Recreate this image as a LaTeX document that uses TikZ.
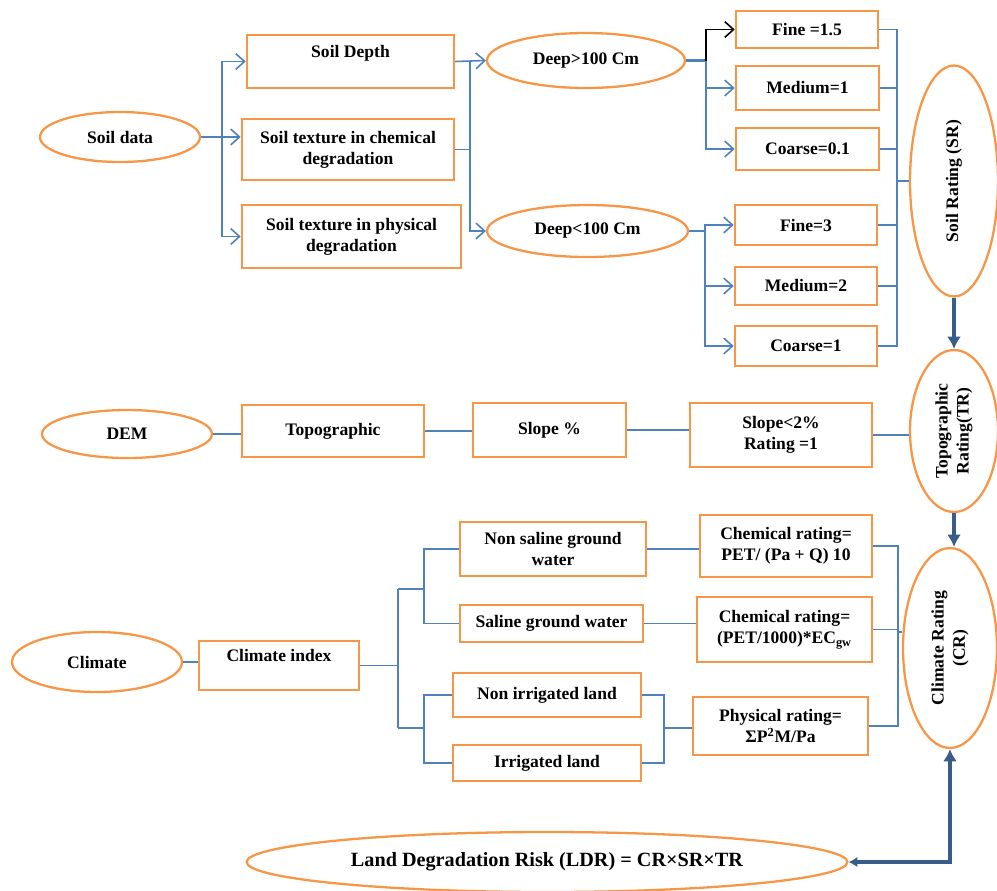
\documentclass[tikz,border=0pt]{standalone}
\usepackage{fontspec}
\setmainfont{Liberation Serif}
\usetikzlibrary{shapes.geometric,arrows.meta}
\definecolor{boxorange}{HTML}{F79646}
\definecolor{linkblue}{HTML}{4F81BD}
\definecolor{darkblue}{HTML}{385D8A}
\begin{document}
\begin{tikzpicture}
			[x=0.02cm,y=-0.02cm,
			box/.style={rectangle,draw=boxorange,line width=1.5pt,align=center,inner sep=0pt,font=\fontsize{10}{12}\selectfont\bfseries},
			oval/.style={ellipse,draw=boxorange,line width=1.3pt,align=center,inner sep=0pt,font=\fontsize{10}{12}\selectfont\bfseries},
			link/.style={draw=linkblue,line width=0.9pt},
			bold link/.style={draw=darkblue,line width=2.6pt},
			>={Straight Barb[length=5pt,width=9pt]}]
			\useasboundingbox(0,0)rectangle(997,890);
			% soil
			\node[oval,name=soil,minimum width=3.2cm,minimum height=1cm]at(120,137){Soil data};
			\node[box,name=depth,minimum width=4.14cm,minimum height=1.06cm]at(350.5,61.5){Soil Depth\\~};
			\node[box,name=chem,minimum width=4.24cm,minimum height=1.22cm]at(348,149.5){Soil texture in chemical\\degradation};
			\node[box,name=phys,minimum width=4.38cm,minimum height=1.26cm]at(351.5,236.5){Soil texture in physical\\degradation};
			\node[oval,name=deep1,minimum width=3.96cm,minimum height=1.1cm]at(586,60.5){Deep>100 Cm};
			\node[oval,name=deep2,minimum width=4.02cm,minimum height=1.04cm]at(587.5,231){Deep<100 Cm};
			\node[box,name=fine1,minimum width=2.84cm,minimum height=0.74cm]at(807,29.5){Fine =1.5};
			\node[box,name=med1,minimum width=2.86cm,minimum height=0.88cm]at(807.5,88){Medium=1};
			\node[box,name=coarse1,minimum width=2.86cm,minimum height=0.84cm]at(807.5,149){Coarse=0.1};
			\node[box,name=fine2,minimum width=2.84cm,minimum height=0.8cm]at(806,225){Fine=3};
			\node[box,name=med2,minimum width=2.84cm,minimum height=0.76cm]at(806,286){Medium=2};
			\node[box,name=coarse2,minimum width=2.84cm,minimum height=0.8cm]at(806,346){Coarse=1};
			\node[oval,name=sr,minimum width=1.76cm,minimum height=4.62cm,label={[rotate=90,font=\fontsize{10}{12}\selectfont\bfseries]center:Soil Rating (SR)}]at(954,181){};
			% topography
			\node[oval,name=dem,minimum width=3.4cm,minimum height=0.96cm]at(127,434){DEM};
			\node[box,name=topo,minimum width=3.64cm,minimum height=1.04cm]at(333,431){Topographic};
			\node[box,name=slope,minimum width=3.06cm,minimum height=1.08cm]at(549.5,430){Slope \%};
			\node[box,name=slope2,minimum width=3.64cm,minimum height=1.28cm]at(781,435){Slope<2\%\\Rating =1};
			\node[oval,name=tr,minimum width=1.76cm,minimum height=3.24cm,label={[rotate=90,align=center,font=\fontsize{10}{12}\selectfont\bfseries]center:Topographic\\Rating(TR)}]at(954,431){};
			% climate
			\node[oval,name=climate,minimum width=3.4cm,minimum height=1.2cm]at(97,662){Climate};
			\node[box,name=cindex,minimum width=3.2cm,minimum height=0.98cm]at(279,665.5){Climate index\\~};
			\node[box,name=nsal,minimum width=3.72cm,minimum height=1.08cm]at(553,549){Non saline ground\\water};
			\node[box,name=sal,minimum width=3.66cm,minimum height=0.74cm]at(551.5,623.5){Saline ground water};
			\node[box,name=nirr,minimum width=3.76cm,minimum height=0.88cm]at(547,695){Non irrigated land};
			\node[box,name=irr,minimum width=3.76cm,minimum height=0.72cm]at(547,763){Irrigated land};
			\node[box,name=crate1,minimum width=3.44cm,minimum height=1.24cm]at(786,546){Chemical rating=\\PET/ (Pa + Q) 10};
			\node[box,name=crate2,minimum width=3.5cm,minimum height=1.3cm]at(784.5,629.5){Chemical rating=\\(PET/1000)*EC\textsubscript{gw}};
			\node[box,name=prate,minimum width=3.5cm,minimum height=1.16cm]at(780.5,726){Physical rating=\\ΣP\textsuperscript{2}M/Pa};
			\node[oval,name=cr,minimum width=1.88cm,minimum height=4cm,label={[rotate=90,align=center,font=\fontsize{10}{12}\selectfont\bfseries]center:Climate Rating\\(CR)}]at(950,648){};
			\node[oval,name=ldr,minimum width=12.02cm,minimum height=1.2cm,font=\fontsize{11.5}{13}\selectfont\bfseries]at(547,862){Land Degradation Risk (LDR) = CR×SR×TR};
			% junctions
			\coordinate(j1)at(222,137);
			\coordinate(j2)at(470,146);
			\coordinate(j3)at(706,60.5);
			\coordinate(j4)at(705,231);
			\coordinate(j5)at(897,181);
			\coordinate(cu)at(398,589);
			\coordinate(cl)at(398,728);
			\coordinate(su)at(424,589);
			\coordinate(sl)at(424,728);
			\coordinate(pj)at(664,728);
			\coordinate(cj)at(898,632);
			% soil links
			\draw[link,->](soil.east)--(soil.east-|chem.west);
			\draw[link,->](j1)|-(depth.west);
			\draw[link,->](j1)|-(phys.west);
			\draw[link](chem.east)--(chem.east-|j2);
			\draw[link,->](depth.east)-|(j2)|-(deep2.west);
			\draw[link,->](depth.east)--(deep1.west);
			\draw[link,line width=1.3pt](deep1.east)--(j3);
			\draw[->,black,line width=0.9pt](j3)|-(fine1.west);
			\draw[link,->](j3)|-(med1.west);
			\draw[link,->](j3)|-(coarse1.west);
			\draw[link,line width=1.3pt](deep2.east)--(j4);
			\draw[link,->](j4)|-(fine2.west);
			\draw[link,->](j4)|-(med2.west);
			\draw[link,->](j4)|-(coarse2.west);
			\draw[link](fine1.east)-|(j5);
			\draw[link](med1.east)-|(j5);
			\draw[link](coarse1.east)-|(j5);
			\draw[link](fine2.east)-|(j5);
			\draw[link](med2.east)-|(j5);
			\draw[link](coarse2.east)-|(j5);
			\draw[link](j5)--(sr.west);
			\draw[bold link,-{Latex[length=7pt,width=8pt]}](sr.south)--(tr.north);
			% topography links
			\draw[link](dem.east)--(dem.east-|topo.west);
			\draw[link](topo.east)--(topo.east-|slope.west);
			\draw[link](slope.east)--(slope.east-|slope2.west);
			\draw[link](slope2.east)--(slope2.east-|tr.west);
			\draw[bold link,-{Latex[length=7pt,width=8pt]}](tr.south)--(tr.south|-cr.north);
			% climate links
			\draw[link](climate.east)--(climate.east-|cindex.west);
			\draw[link](cindex.east)--(cindex.east-|cu);
			\draw[link](cu)--(cl);
			\draw[link](cu)--(su);
			\draw[link](cl)--(sl);
			\draw[link](nsal.west)-|(su)|-(sal.west);
			\draw[link](nirr.west)-|(sl)|-(irr.west);
			\draw[link](nsal.east)--(nsal.east-|crate1.west);
			\draw[link](sal.east)--(sal.east-|crate2.west);
			\draw[link](nirr.east)-|(pj)|-(irr.east);
			\draw[link](pj)--(pj-|prate.west);
			\draw[link](crate1.east)-|(cj);
			\draw[link](prate.east)-|(cj);
			\draw[link](crate2.east)--(crate2.east-|cj);
			\draw[link](cj)--(cj-|cr.west);
			\draw[bold link,{Latex[length=5pt,width=6pt]}-{Latex[length=7pt,width=8pt]}](ldr.east)-|(cr.south);
		\end{tikzpicture}
\end{document}
